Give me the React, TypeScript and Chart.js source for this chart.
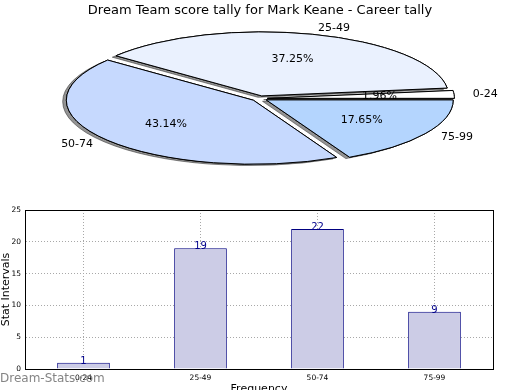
import React, { useEffect, useRef } from "react";
import { Chart, registerables } from "chart.js";

Chart.register(...registerables);
Chart.defaults.font.family = "'DejaVu Sans', sans-serif";
Chart.defaults.color = "#000";

// ---- data ----
const TITLE = "Dream Team score tally for Mark Keane - Career tally";
const CATEGORIES = ["0-24", "25-49", "50-74", "75-99"];
const VALUES = [1, 19, 22, 9];
const PIE_COLORS = ["#ffffff", "#eaf1fe", "#c6d9fe", "#b4d5fe"];
const Y_TICKS = [0, 5, 10, 15, 20, 25];
const Y_TITLE = "Stat Intervals";
const X_TITLE = "Frequency";
const WATERMARK = "Dream-Stats.com";

// ---- pie geometry (ellipse look) ----
const PIE_CX = 259.5;
const PIE_CY = 98.5;
const PIE_R = 187;
const PIE_SY = 64 / 187;
const EXPLODE = 7.9;

const ellipsePiePlugin = {
  id: "ellipsePie",
  beforeDatasetsDraw(chart: any) {
    const ctx: any = chart.ctx;
    const meta = chart.getDatasetMeta(0);
    const arcs = meta.data;
    const base = ctx.getTransform();
    const origStroke = ctx.stroke;
    ctx.stroke = function (...args: any[]) {
      ctx.save();
      ctx.setTransform(base);
      origStroke.apply(ctx, args);
      ctx.restore();
    };
    for (let pass = 0; pass < 2; pass++) {
      arcs.forEach((arc: any) => {
        const half = (arc.startAngle + arc.endAngle) / 2;
        ctx.save();
        ctx.translate(PIE_CX, PIE_CY);
        ctx.scale(1, PIE_SY);
        ctx.translate(Math.cos(half) * EXPLODE, Math.sin(half) * EXPLODE);
        ctx.translate(-arc.x, -arc.y);
        if (pass === 0) {
          ctx.shadowColor = "rgba(40,40,40,0.5)";
          ctx.shadowOffsetX = -3.7;
          ctx.shadowOffsetY = 1.4;
          ctx.shadowBlur = 0;
        }
        arc.draw(ctx);
        ctx.restore();
      });
    }
    delete ctx.stroke;
    return false;
  },
  afterDraw(chart: any) {
    const ctx = chart.ctx;
    const meta = chart.getDatasetMeta(0);
    const labels = chart.data.labels;
    const data = chart.data.datasets[0].data as number[];
    const total = data.reduce((a, b) => a + b, 0);
    ctx.save();
    ctx.font = "11px 'DejaVu Sans'";
    ctx.fillStyle = "#000";
    ctx.textBaseline = "middle";
    meta.data.forEach((arc: any, i: number) => {
      const half = (arc.startAngle + arc.endAngle) / 2;
      const c = Math.cos(half);
      const s = Math.sin(half);
      const cx = PIE_CX + c * EXPLODE;
      const cy = PIE_CY + s * EXPLODE * PIE_SY;
      const lx = cx + 1.1 * PIE_R * c;
      const ly = cy + 1.1 * PIE_R * s * PIE_SY;
      ctx.textAlign = c >= 0 ? "left" : "right";
      ctx.fillText(String(labels[i]), lx, ly);
      const px = cx + 0.6 * PIE_R * c;
      const py = cy + 0.6 * PIE_R * s * PIE_SY;
      ctx.textAlign = "center";
      ctx.fillText(((data[i] / total) * 100).toFixed(2) + "%", px, py);
    });
    ctx.restore();
  },
};

const barExtrasPlugin = {
  id: "barExtras",
  afterDatasetsDraw(chart: any) {
    const ctx = chart.ctx;
    const meta = chart.getDatasetMeta(0);
    const data = chart.data.datasets[0].data as number[];
    ctx.save();
    ctx.font = "10px 'DejaVu Sans'";
    ctx.fillStyle = "#00008b";
    ctx.textAlign = "center";
    ctx.textBaseline = "alphabetic";
    meta.data.forEach((bar: any, i: number) => {
      ctx.fillText(String(data[i]), bar.x, bar.y + 1);
    });
    ctx.restore();
  },
  afterDraw(chart: any) {
    const { ctx, chartArea } = chart;
    ctx.save();
    ctx.strokeStyle = "#000";
    ctx.lineWidth = 1;
    ctx.strokeRect(
      Math.round(chartArea.left) + 0.5,
      Math.round(chartArea.top) + 0.5,
      Math.round(chartArea.right - chartArea.left),
      Math.round(chartArea.bottom - chartArea.top)
    );
    ctx.restore();
  },
};

export default function App() {
  const pieRef = useRef<HTMLCanvasElement>(null);
  const barRef = useRef<HTMLCanvasElement>(null);

  useEffect(() => {
    const pieLabels = [...CATEGORIES].reverse();
    const pieValues = [...VALUES].reverse();
    const pieColors = [...PIE_COLORS].reverse();
    const pie = new Chart(pieRef.current!, {
      type: "pie",
      data: {
        labels: pieLabels,
        datasets: [
          {
            data: pieValues,
            backgroundColor: pieColors,
            borderColor: "#000",
            borderWidth: 1,
            offset: 0,
          } as any,
        ],
      },
      options: {
        animation: false,
        responsive: false,
        maintainAspectRatio: false,
        rotation: 90,
        radius: PIE_R,
        events: [],
        plugins: {
          legend: { display: false },
          tooltip: { enabled: false },
          title: {
            display: true,
            text: TITLE,
            font: { size: 13, weight: "normal" as any },
            color: "#000",
            padding: { top: 3, bottom: 0 },
          },
        },
      } as any,
      plugins: [ellipsePiePlugin],
    });

    const bar = new Chart(barRef.current!, {
      type: "bar",
      data: {
        labels: CATEGORIES,
        datasets: [
          {
            data: VALUES,
            backgroundColor: "#cccce6",
            borderColor: "#000080",
            borderWidth: 1,
            barPercentage: 0.45,
            categoryPercentage: 1,
          },
        ],
      },
      options: {
        animation: false,
        responsive: false,
        maintainAspectRatio: false,
        events: [],
        layout: { padding: { top: 20, right: 27, left: 0, bottom: 0 } },
        plugins: {
          legend: { display: false },
          tooltip: { enabled: false },
        },
        scales: {
          x: {
            offset: true,
            z: 1,
            grid: { offset: false, color: "#a8a8a8", lineWidth: 1, drawTicks: false },
            border: { display: true, color: "#000", dash: [1, 2] },
            ticks: { padding: 5, font: { size: 7.5 }, color: "#000", maxRotation: 0 },
            title: {
              display: true,
              text: X_TITLE,
              font: { size: 11 },
              color: "#000",
              padding: { top: 0, bottom: 4 },
            },
            afterFit: (s: any) => {
              s.height = 31;
            },
          },
          y: {
            min: Y_TICKS[0],
            max: Y_TICKS[Y_TICKS.length - 1],
            z: 1,
            grid: { color: "#a8a8a8", lineWidth: 1, drawTicks: false },
            border: { display: true, color: "#000", dash: [1, 2] },
            afterBuildTicks: (s: any) => {
              s.ticks = Y_TICKS.map((v) => ({ value: v }));
            },
            ticks: { padding: 4, font: { size: 7.5 }, color: "#000" },
            title: {
              display: true,
              text: Y_TITLE,
              font: { size: 11 },
              color: "#000",
              padding: { top: 0, bottom: 0 },
            },
            afterFit: (s: any) => {
              s.width = 25;
            },
          },
        },
      } as any,
      plugins: [barExtrasPlugin],
    });

    return () => {
      pie.destroy();
      bar.destroy();
    };
  }, []);

  return (
    <div
      style={{
        position: "fixed",
        left: 0,
        top: 0,
        width: 520,
        height: 390,
        overflow: "hidden",
        background: "#fff",
      }}
    >
      <canvas
        ref={pieRef}
        width={520}
        height={190}
        style={{ position: "absolute", left: 0, top: 0, width: 520, height: 190 }}
      />
      <canvas
        ref={barRef}
        width={520}
        height={210}
        style={{ position: "absolute", left: 0, top: 190, width: 520, height: 210 }}
      />
      <div
        style={{
          position: "absolute",
          left: 0,
          top: 371,
          font: "12px 'DejaVu Sans', sans-serif",
          lineHeight: "14px",
          color: "rgba(110,110,110,0.85)",
          whiteSpace: "nowrap",
        }}
      >
        {WATERMARK}
      </div>
    </div>
  );
}
